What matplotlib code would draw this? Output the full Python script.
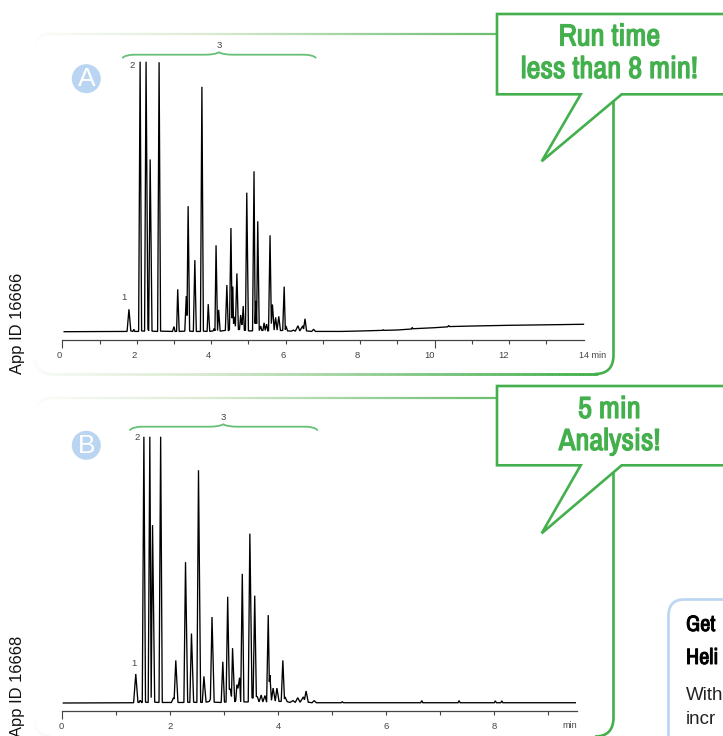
import numpy as np
import matplotlib
matplotlib.use('Agg')
import matplotlib.pyplot as plt
import matplotlib.patheffects as pe
from matplotlib import font_manager
from matplotlib.collections import LineCollection
from matplotlib.colors import LinearSegmentedColormap
from matplotlib.patches import Circle, PathPatch
from matplotlib.path import Path

plt.rcParams['font.family'] = ['Liberation Sans', 'DejaVu Sans']

# a condensed face if there is one, Roboto otherwise
names = sorted(set(f.name for f in font_manager.fontManager.ttflist))
cond = [n for n in names if 'Narrow' in n or 'Condensed' in n]
NARROW = cond[:1] + ['Roboto', 'Liberation Sans']
HEAD_SIZE = 22 if cond else 18.5
NOTE_SIZE = 16 if cond else 14

W = 723
H = 736
GREEN = '#43b04d'
BLUE = '#b9d5f1'
GREY = '#444444'

# chromatogram A, run time in min and signal in % of full scale
time_a = [0.05, 1.74, 1.79, 1.84, 1.90, 1.92, 1.95, 2.05, 2.09, 2.13, 2.21, 2.25, 2.30, 2.32, 2.36, 2.41,
          2.56, 2.60, 2.64, 2.96, 3.00, 3.03, 3.07, 3.10, 3.14, 3.29, 3.33, 3.35, 3.38, 3.42, 3.52, 3.56,
          3.60, 3.71, 3.75, 3.79, 3.89, 3.92, 3.96, 4.05, 4.08, 4.10, 4.13, 4.17, 4.20, 4.24, 4.38, 4.42,
          4.46, 4.49, 4.53, 4.56, 4.58, 4.60, 4.62, 4.65, 4.69, 4.73, 4.76, 4.79, 4.82, 4.83, 4.86, 4.89,
          4.92, 4.955, 5.00, 5.11, 5.15, 5.18, 5.20, 5.22, 5.25, 5.29, 5.33, 5.36, 5.39, 5.42, 5.45, 5.49,
          5.52, 5.54, 5.58, 5.615, 5.645, 5.69, 5.73, 5.77, 5.815, 5.86, 5.92, 5.96, 5.99, 6.01, 6.05, 6.15,
          6.21, 6.26, 6.33, 6.38, 6.46, 6.48, 6.52, 6.56, 6.70, 6.75, 6.80, 7.50, 8.00, 8.60, 8.62, 8.64,
          9.00, 9.38, 9.40, 9.42, 10.0, 10.35, 10.38, 10.40, 11.0, 12.0, 13.0, 14.0]
signal_a = [0, 0.1, 8.3, 0.3, 0.1, 0.9, 0.1, 0.1, 100, 0.3, 0.2, 100, 1.0, 0.3, 63.8, 0.2,
            0.1, 99.8, 0.2, 0.1, 1.9, 0.1, 0.1, 15.7, 0.1, 0.2, 13.2, 6.0, 46.5, 0.2, 0.1, 26.5,
            0.1, 0.1, 90.7, 0.2, 0.1, 10.2, 0.1, 0.3, 1.2, 0.3, 32.0, 0.4, 8.1, 0.2, 0.5, 17.3,
            0.3, 0.8, 38.4, 5.0, 16.7, 3.0, 5.5, 2.0, 21.6, 0.8, 0.8, 6.2, 2.5, 3.0, 9.5, 0.5,
            0.5, 51.5, 0.3, 0.3, 59.4, 3.0, 11.4, 3.0, 40.9, 0.4, 2.1, 0.4, 0.5, 3.3, 0.5, 2.8,
            0.3, 0.3, 35.7, 3.0, 10.1, 0.6, 5.3, 0.6, 5.7, 0.4, 0.5, 16.7, 0.8, 2.1, 0.3, 0.2,
            0.6, 0.2, 2.2, 0.3, 2.2, 1.0, 4.8, 0.3, 0.1, 0.9, 0.1, 0.1, 0.26, 0.5, 0.7, 0.5,
            0.63, 1.0, 1.6, 1.1, 1.48, 1.8, 2.3, 1.9, 2.1, 2.37, 2.55, 2.75]

# chromatogram B
time_b = [0.03, 1.33, 1.37, 1.41, 1.43, 1.45, 1.48, 1.49, 1.52, 1.55, 1.60, 1.63, 1.655, 1.68, 1.72, 1.80,
          1.83, 1.86, 2.03, 2.065, 2.08, 2.11, 2.15, 2.26, 2.29, 2.33, 2.37, 2.40, 2.44, 2.50, 2.53, 2.57,
          2.60, 2.63, 2.67, 2.73, 2.75, 2.78, 2.82, 2.95, 2.98, 3.01, 3.04, 3.07, 3.10, 3.12, 3.14, 3.16,
          3.20, 3.22, 3.24, 3.26, 3.29, 3.31, 3.34, 3.37, 3.45, 3.48, 3.52, 3.54, 3.57, 3.60, 3.62, 3.65,
          3.69, 3.72, 3.76, 3.79, 3.82, 3.84, 3.85, 3.88, 3.91, 3.95, 3.98, 4.02, 4.06, 4.09, 4.12, 4.13,
          4.17, 4.22, 4.28, 4.32, 4.365, 4.41, 4.47, 4.49, 4.52, 4.56, 4.63, 4.67, 4.71, 5.17, 5.19, 5.21,
          6.64, 6.66, 6.68, 7.33, 7.35, 7.37, 8.00, 8.02, 8.04, 8.12, 8.14, 8.16, 9.50]
signal_b = [0, 0.1, 10.9, 0.3, 0.2, 1.0, 0.2, 0.2, 100, 0.3, 0.2, 100, 2.0, 66.8, 0.3, 0.2,
            100, 0.2, 0.2, 1.9, 1.5, 16.0, 0.2, 0.2, 52.9, 0.3, 0.2, 26.1, 0.3, 0.2, 87.4, 0.3,
            0.2, 10.0, 0.3, 0.6, 1.5, 32.3, 0.3, 0.2, 15.5, 0.3, 0.4, 39.9, 5.0, 5.3, 2.5, 20.6,
            0.4, 1.0, 6.9, 5.5, 9.5, 0.4, 48.5, 0.4, 0.4, 63.6, 2.0, 1.8, 40.3, 2.5, 2.3, 0.4,
            3.0, 0.4, 2.8, 0.3, 33.0, 8.0, 10.5, 1.0, 5.6, 0.7, 5.6, 0.6, 0.6, 16.0, 1.5, 2.3,
            0.5, 0.2, 0.9, 0.2, 2.0, 0.3, 2.3, 1.2, 4.5, 0.3, 0.1, 0.9, 0.1, 0.1, 0.5, 0.1,
            0.1, 0.9, 0.1, 0.1, 0.9, 0.1, 0.1, 0.8, 0.1, 0.1, 0.8, 0.1, 0.1]

major_a = [0, 2, 4, 6, 8, 10, 12]
minor_a = [1, 3, 5, 7, 9, 11, 13]
major_b = [0, 2, 4, 6, 8]
minor_b = [1, 3, 5, 7, 9]


def px_axes(fig, left, right, top, bottom):
    return fig.add_axes([left / W, 1 - bottom / H, (right - left) / W, (bottom - top) / H])


def chrom(fig, t, s, xmax, left, right, axis_y, base_y, top_y, major, minor, labels, ha, long_ticks):
    ax = px_axes(fig, left, right, top_y - 5, axis_y)
    ax.patch.set_alpha(0)
    ax.plot(t, s, color='black', lw=0.95, solid_joinstyle='miter', clip_on=False)
    scale = (base_y - top_y) / 100.0
    ax.set_xlim(0, xmax)
    ax.set_ylim(-(axis_y - base_y) / scale, 100 + 5 / scale)
    for k in ['top', 'left', 'right']:
        ax.spines[k].set_visible(False)
    ax.spines['bottom'].set_color(GREY)
    ax.spines['bottom'].set_linewidth(0.9)
    ax.set_yticks([])
    ax.set_xticks(major)
    ax.set_xticks(minor, minor=True)
    ax.set_xticklabels(labels, fontsize=6.8, color=GREY, ha=ha)
    ax.tick_params(axis='x', which='both', length=3, width=0.8, color=GREY, pad=5)
    for i in long_ticks:
        ax.xaxis.get_major_ticks()[i].tick1line.set_markersize(5.5)
    return ax


def gradient_line(ax, xs, ys, c0, c1, lw):
    pts = np.column_stack([xs, ys])
    segs = np.stack([pts[:-1], pts[1:]], axis=1)
    cmap = LinearSegmentedColormap.from_list('fade', ['#ffffff', '#dcebd3', '#8ccb8e', GREEN])
    lc = LineCollection(segs, colors=cmap(np.linspace(c0, c1, len(segs))), linewidths=lw, capstyle='round')
    ax.add_collection(lc)


def frame(ax, top, bottom, start_y, join_x):
    arc = np.linspace(0, np.pi / 2, 12)
    # top edge, fades out to the left
    xs = np.concatenate([50 - 15 * np.cos(arc), np.linspace(52, join_x, 120)])
    ys = np.concatenate([top + 15 - 15 * np.sin(arc), np.full(120, top)])
    gradient_line(ax, xs, ys, 0.0, 0.82, 1.6)
    # bottom edge, gets stronger to the right
    xs = np.concatenate([50 - 15 * np.cos(arc), np.linspace(52, 597, 160)])
    ys = np.concatenate([bottom - 15 + 15 * np.sin(arc), np.full(160, bottom)])
    gradient_line(ax, xs, ys, 0.03, 1.0, 2.0)
    # right edge with rounded corner
    p = Path([(613.5, start_y), (613.5, bottom - 19), (613.5, bottom), (595, bottom)],
             [Path.MOVETO, Path.LINETO, Path.CURVE3, Path.CURVE3])
    ax.add_patch(PathPatch(p, fc='none', ec=GREEN, lw=1.9))


def heavy(ax, x, y, s, color, size, sw, **kw):
    # condensed face only comes in regular here, so thicken it with a stroke
    t = ax.text(x, y, s, color=color, fontsize=size, family=NARROW, va='center', **kw)
    t.set_path_effects([pe.withStroke(linewidth=sw, foreground=color)])
    return t


def callout(ax, top, bottom, tip_y, line1, line2, y1, y2):
    xs = [725, 497, 497, 580.7, 541.7, 621.7, 725]
    ys = [top, top, bottom, bottom, tip_y, bottom, bottom]
    ax.fill(xs, ys, fc='white', ec='none', zorder=3)
    ax.plot(xs, ys, color=GREEN, lw=1.9, solid_joinstyle='miter', zorder=4)
    heavy(ax, 609.5, y1, line1, GREEN, HEAD_SIZE, 0.9, ha='center', zorder=5)
    heavy(ax, 609.5, y2, line2, GREEN, HEAD_SIZE, 0.9, ha='center', zorder=5)


def brace(ax, x0, x1, xm, y_end, y_line, y_tip):
    verts = [(x0, y_end), (x0 + 3, y_line), (x0 + 12, y_line), (xm - 14, y_line),
             (xm - 4, y_line), (xm, y_tip), (xm + 4, y_line), (xm + 14, y_line),
             (x1 - 12, y_line), (x1 - 3, y_line), (x1, y_end)]
    codes = [Path.MOVETO, Path.CURVE3, Path.CURVE3, Path.LINETO, Path.CURVE3, Path.CURVE3,
             Path.CURVE3, Path.CURVE3, Path.LINETO, Path.CURVE3, Path.CURVE3]
    ax.add_patch(PathPatch(Path(verts, codes), fc='none', ec='#66c077', lw=1.3, capstyle='round'))


fig = plt.figure(figsize=(W / 100, H / 100), dpi=100)

# overlay in picture pixels for frames, callouts and notes
bg = fig.add_axes([0, 0, 1, 1])
bg.set_xlim(0, W)
bg.set_ylim(H, 0)
bg.axis('off')

frame(bg, 33.5, 374, 101, 497)
frame(bg, 398, 736.5, 472, 497)

ax_a = chrom(fig, time_a, signal_a, 14, 62.3, 583.5, 339.5, 331.7, 61.7, major_a, minor_a,
             [str(v) for v in major_a], 'right', [0, 5])
ax_b = chrom(fig, time_b, signal_b, 9.525, 61.7, 576.7, 711, 703, 436.7, major_b, minor_b,
             [str(v) for v in major_b], 'center', [0])

over = fig.add_axes([0, 0, 1, 1])
over.patch.set_alpha(0)
over.set_xlim(0, W)
over.set_ylim(H, 0)
over.axis('off')

callout(over, 14, 94.3, 161.3, 'Run time', 'less than 8 min!', 36.5, 69)
callout(over, 386, 465.3, 533.3, '5 min', 'Analysis!', 409, 441)

brace(over, 122.7, 315.7, 219, 57.7, 54.7, 52.3)
brace(over, 130, 317.3, 223.3, 430, 426.7, 424.3)

small = dict(fontsize=6.8, color=GREY, ha='center', va='center')
over.text(219, 46, '3', **small)
over.text(124, 297, '1', **small)
over.text(131.7, 65, '2', **small)
over.text(223.3, 418, '3', **small)
over.text(133.7, 664, '1', **small)
over.text(137, 438, '2', **small)
over.text(579, 355, '14 min', fontsize=6.5, color=GREY, ha='left', va='center')
over.text(570, 726, 'min', fontsize=6.5, color=GREY, ha='center', va='center')

for cy, letter in [(78.7, 'A'), (445.3, 'B')]:
    over.add_patch(Circle((86.3, cy), 14.5, fc=BLUE, ec='none'))
    over.text(86.3, cy + 0.3, letter, color='white', fontsize=19, ha='center', va='center')

over.text(18, 323.5, 'App ID 16666', rotation=90, fontsize=11.9, color='#111111', ha='center', va='center')
over.text(18, 686, 'App ID 16668', rotation=90, fontsize=11.9, color='#111111', ha='center', va='center')

# blue note box, runs off the page
p = Path([(725, 599.5), (684, 599.5), (668.5, 599.5), (668.5, 616), (668.5, 740)],
         [Path.MOVETO, Path.LINETO, Path.CURVE3, Path.CURVE3, Path.LINETO])
over.add_patch(PathPatch(p, fc='none', ec='#bdd7f2', lw=2.0))
heavy(over, 686, 625, 'Get', 'black', NOTE_SIZE, 0.7)
heavy(over, 686, 658, 'Heli', 'black', NOTE_SIZE, 0.7)
over.text(686, 695, 'With', color='#222222', fontsize=13.5, va='center')
over.text(686, 720, 'incr', color='#222222', fontsize=13.5, va='center')

fig.savefig('out.png', dpi=100)
